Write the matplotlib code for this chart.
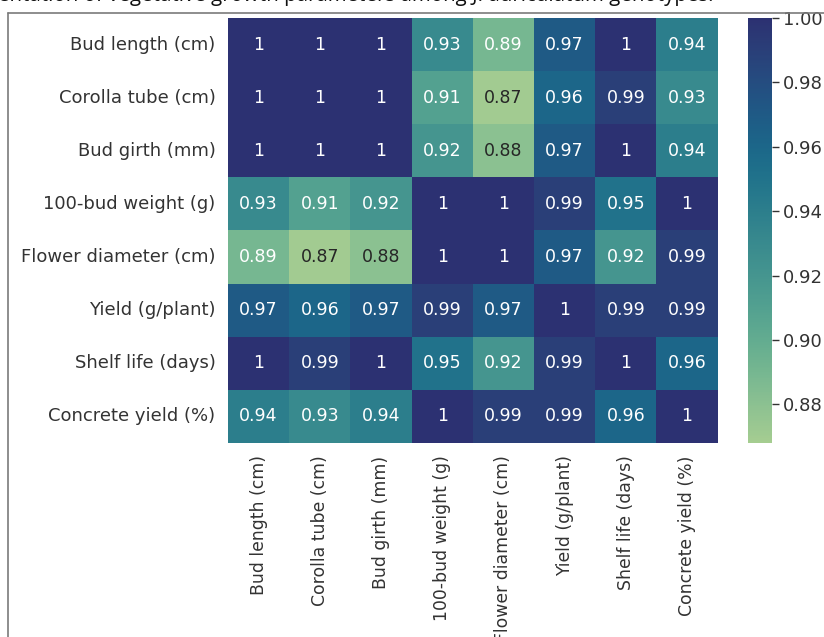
import numpy as np
import pandas as pd
import matplotlib
matplotlib.use("Agg")
import matplotlib.pyplot as plt
from matplotlib.lines import Line2D
import seaborn as sns

# Trait names (rows and columns of the correlation matrix)
traits = ["Bud length (cm)", "Corolla tube (cm)", "Bud girth (mm)",
          "100-bud weight (g)", "Flower diameter (cm)", "Yield (g/plant)",
          "Shelf life (days)", "Concrete yield (%)"]

# Correlation coefficients, one list per trait
bud_length = [1, 1, 1, 0.93, 0.89, 0.97, 1, 0.94]
corolla_tube = [1, 1, 1, 0.91, 0.87, 0.96, 0.99, 0.93]
bud_girth = [1, 1, 1, 0.92, 0.88, 0.97, 1, 0.94]
bud_weight = [0.93, 0.91, 0.92, 1, 1, 0.99, 0.95, 1]
flower_diameter = [0.89, 0.87, 0.88, 1, 1, 0.97, 0.92, 0.99]
yield_plant = [0.97, 0.96, 0.97, 0.99, 0.97, 1, 0.99, 0.99]
shelf_life = [1, 0.99, 1, 0.95, 0.92, 0.99, 1, 0.96]
concrete_yield = [0.94, 0.93, 0.94, 1, 0.99, 0.99, 0.96, 1]

cbar_ticks = [0.88, 0.90, 0.92, 0.94, 0.96, 0.98, 1.00]

corr = pd.DataFrame([bud_length, corolla_tube, bud_girth, bud_weight,
                     flower_diameter, yield_plant, shelf_life, concrete_yield],
                    index=traits, columns=traits)

sns.set_style("white")
plt.rcParams["font.family"] = "sans-serif"
plt.rcParams["font.sans-serif"] = ["DejaVu Sans"]

fig = plt.figure(figsize=(8.24, 6.37), dpi=100)
ax = fig.add_axes([0.2767, 0.3046, 0.5943, 0.6671])
cax = fig.add_axes([0.9078, 0.3046, 0.0292, 0.6671])

sns.heatmap(corr, annot=True, cmap="crest", vmin=0.868, vmax=1.0,
            ax=ax, cbar_ax=cax, annot_kws={"size": 12.5, "family": "DejaVu Sans"})

ax.tick_params(axis="both", length=0, pad=9, colors="#333333")
ax.set_xticklabels(traits, rotation=90, family="DejaVu Sans", fontsize=12.4)
ax.set_yticklabels(traits, rotation=0, family="DejaVu Sans", fontsize=13)
cax.set_yticks(cbar_ticks)
cax.set_yticklabels([f"{t:.2f}" for t in cbar_ticks], family="DejaVu Sans")
cax.tick_params(labelsize=13, colors="#333333", length=5, width=1, pad=3)

# caption line above the frame, partly clipped by the page edge
fig.text(-0.002, 1 - 1.5 / 637,
         "entation of vegetative growth parameters among J. auriculatum genotypes.",
         fontsize=14.8, family="Open Sans", va="baseline", ha="left", color="#111111")

# page frame
fig.add_artist(Line2D([8 / 824, 8 / 824], [0, 1 - 13 / 637], transform=fig.transFigure,
                      color="#7a7a7a", lw=1.2))
fig.add_artist(Line2D([8 / 824, 1], [1 - 13 / 637, 1 - 13 / 637], transform=fig.transFigure,
                      color="#7a7a7a", lw=1.2))

fig.savefig("out.png", dpi=100)
